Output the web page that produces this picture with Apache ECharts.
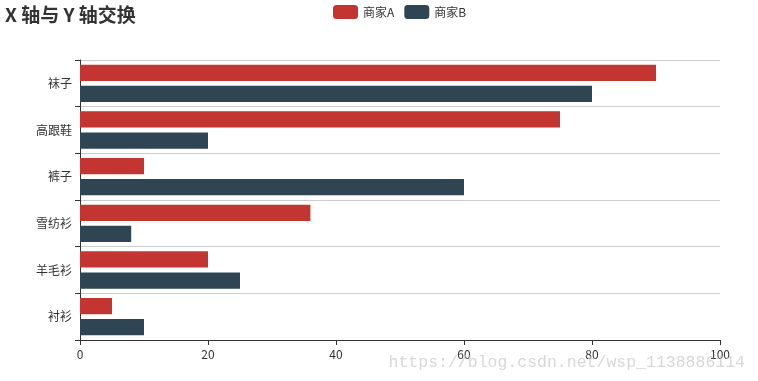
<!DOCTYPE html>
<html><head><meta charset="utf-8">
<script src="https://cdn.jsdelivr.net/npm/echarts@6/dist/echarts.min.js"></script>
<style>html,body{margin:0;padding:0;background:#fff}#c{width:758px;height:381px}</style>
</head><body><div id="c"></div>
<script>
const categories = ['衬衫','羊毛衫','雪纺衫','裤子','高跟鞋','袜子'];
const seriesNames = ['商家A','商家B'];
const valuesA = [5, 20, 36, 10, 75, 90];
const valuesB = [10, 25, 8, 60, 20, 80];
const xTicks = {min: 0, max: 100, interval: 20};

const chart = echarts.init(document.getElementById('c'));
const font = '"Noto Sans CJK SC", "Noto Sans", sans-serif';
chart.setOption({
  animation: false,
  color: ['#c23531', '#2f4554'],
  textStyle: {fontFamily: font},
  title: {text: 'X 轴与 Y 轴交换', left: 0, top: 0,
    textStyle: {fontSize: 19, fontWeight: 'bold', color: '#333', fontFamily: font}},
  legend: {data: seriesNames, top: 0, left: 328, itemWidth: 25, itemHeight: 14, itemGap: 10,
    textStyle: {fontSize: 12, color: '#333'}},
  grid: {left: 80, right: 38, top: 60, bottom: 41, containLabel: false},
  xAxis: {type: 'value', min: xTicks.min, max: xTicks.max, interval: xTicks.interval,
    axisLine: {show: true, lineStyle: {color: '#333'}},
    axisTick: {show: true, length: 5, lineStyle: {color: '#333'}},
    axisLabel: {color: '#333', fontSize: 12, margin: 8},
    splitLine: {show: false}},
  yAxis: {type: 'category', data: categories,
    axisLine: {show: true, lineStyle: {color: '#333'}},
    axisTick: {show: true, length: 5, lineStyle: {color: '#333'}},
    axisLabel: {color: '#333', fontSize: 12, margin: 8},
    splitLine: {show: true, lineStyle: {color: '#ccc'}}},
  series: [
    {name: seriesNames[0], type: 'bar', data: valuesA, barGap: '30%', barCategoryGap: '20%'},
    {name: seriesNames[1], type: 'bar', data: valuesB, barGap: '30%', barCategoryGap: '20%'}
  ],
  graphic: [{type: 'text', right: 13, bottom: 10, z: 100,
    style: {text: 'https://blog.csdn.net/wsp_1138886114', fill: 'rgba(200,200,200,0.7)',
      font: '16.5px "Liberation Mono", monospace'}}]
});
</script></body></html>
